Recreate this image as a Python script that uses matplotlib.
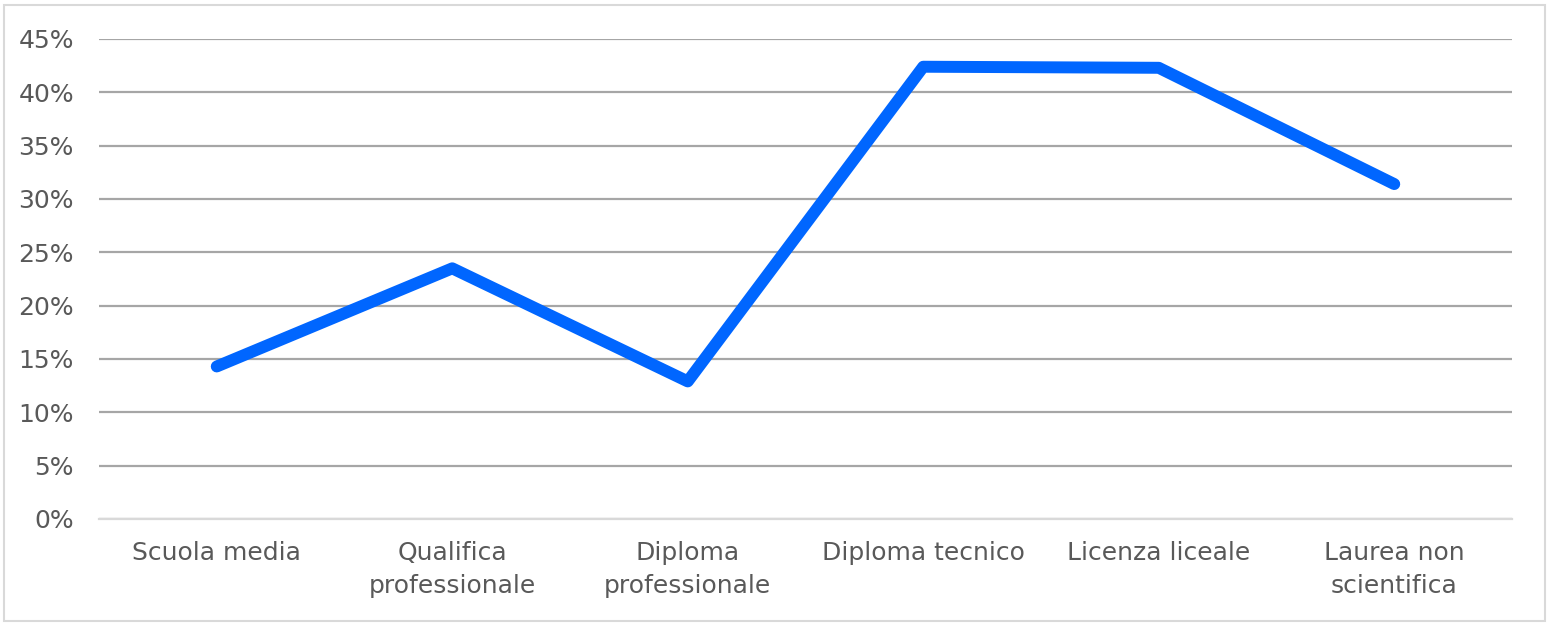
import matplotlib
matplotlib.use("Agg")
import matplotlib.pyplot as plt
from matplotlib.ticker import PercentFormatter, MultipleLocator
from matplotlib.patches import Rectangle

categories = ["Scuola media", "Qualifica\nprofessionale", "Diploma\nprofessionale",
              "Diploma tecnico", "Licenza liceale", "Laurea non\nscientifica"]
values = [14.3, 23.5, 12.9, 42.4, 42.3, 31.4]

plt.rcParams['font.family'] = ['DejaVu Sans']

fig = plt.figure(figsize=(15.5, 6.26), dpi=100)
ax = fig.add_axes([99/1550, 1 - 519/626, (1512-99)/1550, (519-39)/626])

x = list(range(len(categories)))
ax.plot(x, values, color="#0066FF", linewidth=8.6, solid_capstyle="round",
        solid_joinstyle="round", zorder=3)

ax.set_xlim(-0.5, len(categories) - 0.5)
ax.set_ylim(0, 45)
ax.yaxis.set_major_locator(MultipleLocator(5))
ax.yaxis.set_major_formatter(PercentFormatter(decimals=0))
ax.set_xticks(x)
ax.set_xticklabels(categories)

ax.grid(axis="y", color="#a6a6a6", linewidth=1.6)
ax.set_axisbelow(True)
for s in ["top", "right", "left"]:
    ax.spines[s].set_visible(False)
ax.spines["bottom"].set_color("#d9d9d9")
ax.spines["bottom"].set_linewidth(1.6)
ax.tick_params(axis="both", length=0, labelsize=18, labelcolor="#595959")
ax.tick_params(axis="y", pad=18)
ax.tick_params(axis="x", pad=16)
for lbl in ax.get_xticklabels():
    lbl.set_linespacing(1.45)

fig.patches.append(Rectangle((4/1550, 1 - 621/626), 1541/1550, 616/626,
                             transform=fig.transFigure, fill=False,
                             edgecolor="#d9d9d9", linewidth=1.5))

fig.savefig("out.png", dpi=100)
